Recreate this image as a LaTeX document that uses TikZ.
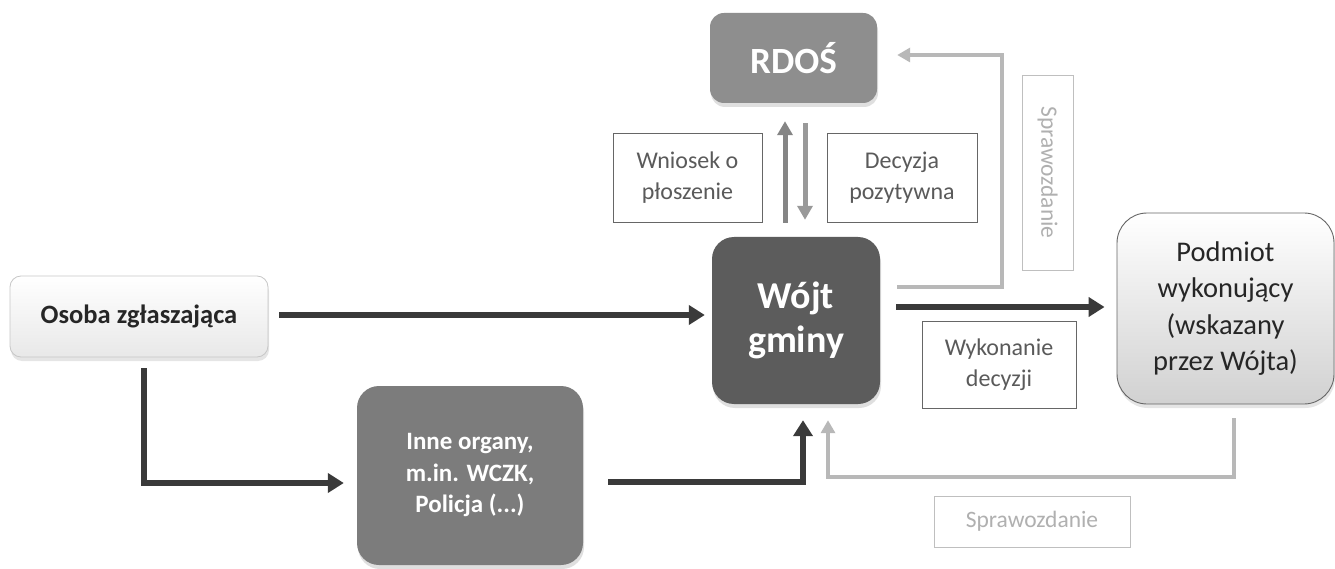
\documentclass[tikz,border=0pt]{standalone}
\usepackage{fontspec}
\setmainfont{Carlito}
\usetikzlibrary{arrows.meta,shadows}
\definecolor{rdosc}{HTML}{8E8E8E}
\definecolor{wojtc}{HTML}{5C5C5C}
\definecolor{innec}{HTML}{7C7C7C}
\definecolor{darkarr}{HTML}{3A3A3A}
\definecolor{midarr}{HTML}{858585}
\definecolor{lightarr}{HTML}{B8B8B8}
\definecolor{labtxt}{HTML}{5A5A5A}
\definecolor{sprtxt}{HTML}{B0B0B0}
\begin{document}
\begin{tikzpicture}[x=1pt,y=-1pt,
  solidbox/.style={rounded corners=18pt, draw=none, text=white, inner sep=0pt, align=center,
    drop shadow={opacity=0.25, shadow xshift=1pt, shadow yshift=-4pt}},
  lightbox/.style={rounded corners=12pt, inner sep=0pt, align=center, text=black!85,
    drop shadow={opacity=0.2, shadow xshift=1pt, shadow yshift=-4pt}},
  labbox/.style={draw=black!60, line width=0.9pt, inner sep=0pt, align=center, text=labtxt,
    font=\fontsize{24}{31}\selectfont},
  sprbox/.style={draw=black!25, line width=0.9pt, inner sep=0pt, align=center, text=sprtxt,
    font=\fontsize{23.5}{31}\selectfont},
  darrow/.style={draw=darkarr, line width=6pt, -{Triangle[length=16pt,width=19pt]}},
  marrow/.style={draw=midarr, line width=5pt, -{Triangle[length=14pt,width=15pt]}},
  larrow/.style={draw=lightarr, line width=4.5pt, -{Triangle[length=13pt,width=14pt]}}
]
\useasboundingbox (0,0) rectangle (1335,569);
\fill[white] (0,0) rectangle (1335,569);

% boxes
\node[solidbox, fill=rdosc, rounded corners=14pt, minimum width=167pt, minimum height=90pt,
  font=\fontsize{37}{44}\selectfont\bfseries] (rdos) at (793.5,58) {RDOŚ};
\node[solidbox, fill=wojtc, rounded corners=22pt, minimum width=168pt, minimum height=167pt,
  font=\fontsize{38}{44}\selectfont\bfseries] (wojt) at (796,320.5) {Wójt\\gminy};
\node[solidbox, fill=innec, rounded corners=22pt, minimum width=226pt, minimum height=179pt,
  font=\fontsize{25}{31.5}\selectfont\bfseries] (inne) at (470,475.5) {Inne organy,\\m.in. WCZK,\\Policja (...)};
\node[lightbox, draw=black!22, line width=0.8pt, top color=white, bottom color=black!9,
  rounded corners=11pt, minimum width=258pt, minimum height=81pt,
  font=\fontsize{26.5}{30}\selectfont\bfseries] (osoba) at (139,316.5) {Osoba zgłaszająca};
\node[lightbox, draw=black!60, line width=0.9pt, top color=white, bottom color=black!18,
  rounded corners=30pt, minimum width=217pt, minimum height=191pt,
  font=\fontsize{28.5}{36.5}\selectfont] (podmiot) at (1225.5,308.5) {Podmiot\\wykonujący\\(wskazany\\przez Wójta)};

% label boxes
\node[labbox, minimum width=149pt, minimum height=89pt] (wniosek) at (687.5,177.5) {Wniosek o\\płoszenie};
\node[labbox, minimum width=150pt, minimum height=89pt] (decyzja) at (902,177.5) {Decyzja\\pozytywna};
\node[labbox, minimum width=154pt, minimum height=87pt] (wykon) at (999,364.5) {Wykonanie\\decyzji};
\node[sprbox, rotate=-90, minimum width=195pt, minimum height=51pt] (sprv) at (1047.5,172.5) {Sprawozdanie};
\node[sprbox, minimum width=196pt, minimum height=51pt] (sprh) at (1032,521.5) {Sprawozdanie};

% dark connectors
\draw[darrow] ([shift={(11pt,1.5pt)}]osoba.east) -- ([shift={(-7pt,5.5pt)}]wojt.west);
\draw[darrow] ([shift={(5pt,-11pt)}]osoba.south) |- ([shift={(-13pt,-7.5pt)}]inne.west);
\draw[darrow] ([shift={(25pt,-6.5pt)}]inne.east) -| ([shift={(7pt,-16pt)}]wojt.south);
\draw[darrow] ([shift={(16pt,13.5pt)}]wojt.east) -- ([shift={(-12pt,1.5pt)}]podmiot.west);

% RDOS <-> Wojt
\draw[marrow] ([shift={(-11pt,14pt)}]wojt.north) -- ([shift={(-8.5pt,-18pt)}]rdos.south);
\draw[marrow, draw=black!40] ([shift={(11.5pt,-20pt)}]rdos.south) -- ([shift={(9pt,17pt)}]wojt.north);

% reports
\draw[larrow] ([shift={(17pt,33.5pt)}]wojt.east) -| ([shift={(125pt,3pt)}]rdos.east) -- ([shift={(20pt,3pt)}]rdos.east);
\draw[larrow] ([shift={(8.5pt,-14pt)}]podmiot.south) |- ([shift={(32pt,-73pt)}]wojt.south) -- ([shift={(32pt,-16pt)}]wojt.south);
\end{tikzpicture}
\end{document}
